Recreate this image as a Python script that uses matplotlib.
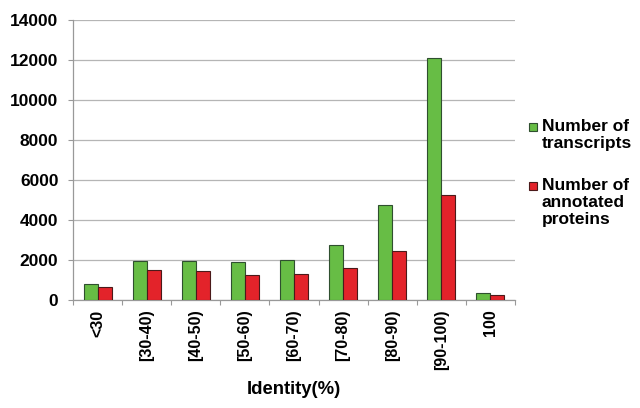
import matplotlib
matplotlib.use("Agg")
import matplotlib.pyplot as plt
from matplotlib.patches import Rectangle
import numpy as np

plt.rcParams['font.family'] = ['Liberation Sans', 'DejaVu Sans']
plt.rcParams['font.weight'] = 'bold'
plt.rcParams['ytick.labelsize'] = 12.5
plt.rcParams['xtick.labelsize'] = 11.5

categories = ["<30", "[30-40)", "[40-50)", "[50-60)", "[60-70)", "[70-80)", "[80-90)", "[90-100)", "100"]
transcripts = [780, 1950, 1950, 1900, 1980, 2750, 4730, 12080, 330]
proteins = [650, 1480, 1450, 1250, 1300, 1620, 2450, 5250, 230]
series_names = ["Number of\ntranscripts", "Number of\nannotated\nproteins"]
yticks = [0, 2000, 4000, 6000, 8000, 10000, 12000, 14000]

green = "#67BD45"
red = "#E3232A"
colors = [green, red]
edges = ["#2f4f2f", "#4a1a1a"]

W, H = 640, 408
fig = plt.figure(figsize=(6.4, 4.08), dpi=100)
ax = fig.add_axes([73 / W, 1 - 300 / H, (515 - 73) / W, (300 - 20) / H])

x = np.arange(len(categories))
w = 0.285
ax.bar(x - w/2, transcripts, w, color=green, edgecolor=edges[0], linewidth=0.8, zorder=3)
ax.bar(x + w/2, proteins, w, color=red, edgecolor=edges[1], linewidth=0.8, zorder=3)

ax.set_xlim(-0.5, len(categories) - 0.5)
ax.set_ylim(0, 14000)
ax.set_yticks(yticks)
ax.set_yticklabels([str(v) for v in yticks])
ax.yaxis.grid(True, color="#b5b5b5", linewidth=0.9, zorder=0)

ax.set_xticks(np.arange(len(categories) + 1) - 0.5)
ax.set_xticklabels([])
ax.tick_params(axis='x', which='major', length=3.5, color="#999999", direction='out')
ax.set_xticks(x, minor=True)
ax.set_xticklabels(categories, minor=True, rotation=90)
ax.tick_params(axis='x', which='minor', length=0, pad=7, labelsize=11.5)
ax.tick_params(axis='y', length=3.5, color="#999999", pad=7, labelsize=12.5)
for lab in ax.get_yticklabels():
    lab.set_fontsize(12.5)
    lab.set_fontweight('bold')

for s in ['top', 'right']:
    ax.spines[s].set_visible(False)
for s in ['left', 'bottom']:
    ax.spines[s].set_color("#999999")
    ax.spines[s].set_linewidth(0.9)

ax.set_xlabel("Identity(%)", fontsize=13.3, fontweight='bold', labelpad=8)

# legend drawn manually (handle aligned with first text line)
legend_tops = [123, 182]
for name, col, ec, top in zip(series_names, colors, edges, legend_tops):
    fig.patches.append(Rectangle((529 / W, 1 - (top + 8) / H), 8 / W, 8 / H,
                                 transform=fig.transFigure, facecolor=col,
                                 edgecolor=ec, linewidth=0.8))
    fig.text(542 / W, 1 - (top - 4) / H, name, ha='left', va='top',
             fontsize=12.5, fontweight='bold', linespacing=1.15)

fig.savefig("out.png", dpi=100)
